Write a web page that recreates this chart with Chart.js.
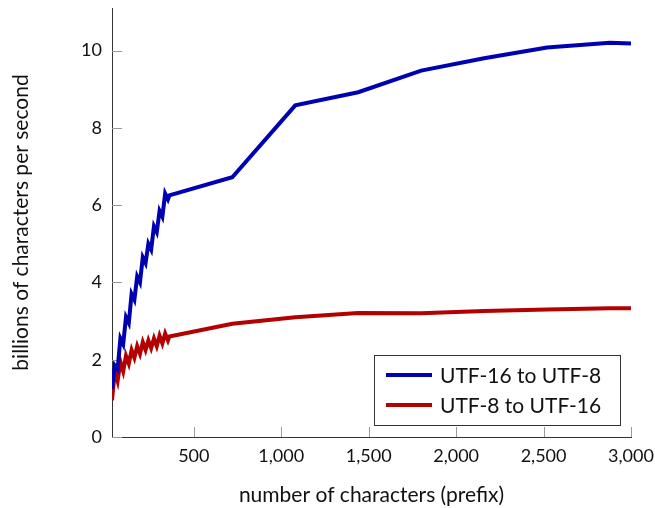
<!DOCTYPE html>
<html>
<head>
<meta charset="utf-8">
<script src="https://cdn.jsdelivr.net/npm/chart.js@4.4.1/dist/chart.umd.min.js"></script>
<style>
  html, body { margin: 0; padding: 0; background: #fff; }
  #wrap { width: 655px; height: 508px; }
</style>
</head>
<body>
<div id="wrap"><canvas id="speedChart"></canvas></div>
<script>
// prefix lengths (characters)
var prefixLengths = [32, 48, 64, 80, 96, 112, 128, 144, 160, 176, 192, 208, 224, 240, 256, 272, 288, 304, 320, 336, 352, 360,
    720, 1080, 1440, 1800, 2160, 2520, 2880, 3000];
// billions of characters per second
var utf16ToUtf8 = [1.25, 1.85, 1.75, 2.55, 2.4, 3.1, 2.95, 3.7, 3.55, 4.15, 4.0, 4.65, 4.5, 5.0, 4.85, 5.45, 5.3, 5.85, 5.7, 6.3, 6.15, 6.25,
    6.72, 8.58, 8.92, 9.48, 9.8, 10.08, 10.2, 10.18];
var utf8ToUtf16 = [0.95, 1.7, 1.45, 1.95, 1.7, 2.1, 1.9, 2.25, 2.05, 2.35, 2.15, 2.45, 2.25, 2.5, 2.3, 2.55, 2.35, 2.62, 2.42, 2.68, 2.5, 2.6,
    2.93, 3.1, 3.21, 3.2, 3.26, 3.3, 3.33, 3.33];
var xTicks = [500, 1000, 1500, 2000, 2500, 3000];
var yTicks = [0, 2, 4, 6, 8, 10];

var blue = '#0000b3';
var red = '#b30000';
var font = 'Lato, "Open Sans", sans-serif';

function points(values) {
    return values.map(function (v, i) { return { x: prefixLengths[i], y: v }; });
}

// short gray tick marks pointing into the plot
var innerTicks = {
    id: 'innerTicks',
    beforeDatasetsDraw: function (chart) {
        var ctx = chart.ctx, a = chart.chartArea;
        var xs = chart.scales.x, ys = chart.scales.y;
        ctx.save();
        ctx.strokeStyle = '#999';
        ctx.lineWidth = 1;
        ctx.beginPath();
        xTicks.forEach(function (v) {
            var px = Math.round(xs.getPixelForValue(v)) + 0.5;
            ctx.moveTo(px, a.bottom);
            ctx.lineTo(px, a.bottom - 10);
        });
        yTicks.forEach(function (v) {
            var py = Math.round(ys.getPixelForValue(v)) + 0.5;
            ctx.moveTo(a.left, py);
            ctx.lineTo(a.left + 10, py);
        });
        ctx.stroke();
        ctx.restore();
    }
};

// boxed legend in the lower right of the plot
var boxLegend = {
    id: 'boxLegend',
    afterDatasetsDraw: function (chart) {
        var ctx = chart.ctx;
        var x = 374, y = 355, w = 246, h = 70;
        ctx.save();
        ctx.fillStyle = '#fff';
        ctx.fillRect(x, y, w, h);
        ctx.strokeStyle = '#333';
        ctx.lineWidth = 1;
        ctx.strokeRect(x + 0.5, y + 0.5, w, h);
        ctx.font = '21px ' + font;
        ctx.textBaseline = 'middle';
        chart.data.datasets.forEach(function (ds, i) {
            var cy = y + 20 + i * 30;
            ctx.strokeStyle = ds.borderColor;
            ctx.lineWidth = 4;
            ctx.beginPath();
            ctx.moveTo(x + 12, cy);
            ctx.lineTo(x + 58, cy);
            ctx.stroke();
            ctx.fillStyle = '#111';
            ctx.fillText(ds.label, x + 66, cy + 1);
        });
        ctx.restore();
    }
};

var ctx = document.getElementById('speedChart').getContext('2d');
var speedChart = new Chart(ctx, {
    type: 'line',
    data: {
        datasets: [{
            label: 'UTF-16 to UTF-8',
            data: points(utf16ToUtf8),
            borderColor: blue,
            borderWidth: 4,
            pointRadius: 0,
            tension: 0
        }, {
            label: 'UTF-8 to UTF-16',
            data: points(utf8ToUtf16),
            borderColor: red,
            borderWidth: 4,
            pointRadius: 0,
            tension: 0
        }]
    },
    options: {
        responsive: true,
        maintainAspectRatio: false,
        animation: false,
        layout: { padding: { top: 8, right: 24, left: 0, bottom: 0 } },
        plugins: {
            legend: { display: false },
            tooltip: { enabled: false }
        },
        scales: {
            x: {
                type: 'linear',
                min: 32,
                max: 3000,
                afterBuildTicks: function (scale) {
                    scale.ticks = xTicks.map(function (v) { return { value: v }; });
                },
                afterFit: function (scale) {
                    scale.height = 71;
                    scale.paddingLeft = 0;
                    scale.paddingRight = 0;
                },
                grid: { display: false, drawTicks: false },
                border: { display: true, color: '#333', width: 1 },
                ticks: {
                    padding: 8,
                    maxRotation: 0,
                    autoSkip: false,
                    color: '#111',
                    font: { family: font, size: 18 },
                    callback: function (v) { return v.toLocaleString('en-US'); }
                },
                title: {
                    display: true,
                    text: 'number of characters (prefix)',
                    color: '#111',
                    font: { family: font, size: 21 },
                    padding: { top: 10, bottom: 0 }
                }
            },
            y: {
                min: 0,
                max: 11.1,
                afterBuildTicks: function (scale) {
                    scale.ticks = yTicks.map(function (v) { return { value: v }; });
                },
                afterFit: function (scale) {
                    scale.width = 112;
                    scale.paddingTop = 0;
                    scale.paddingBottom = 0;
                },
                grid: { display: false, drawTicks: false },
                border: { display: true, color: '#333', width: 1 },
                ticks: {
                    padding: 10,
                    color: '#111',
                    font: { family: font, size: 18 }
                },
                title: {
                    display: true,
                    text: 'billions of characters per second',
                    color: '#111',
                    font: { family: font, size: 21 },
                    padding: { top: 9 }
                }
            }
        }
    },
    plugins: [innerTicks, boxLegend]
});
</script>
</body>
</html>
